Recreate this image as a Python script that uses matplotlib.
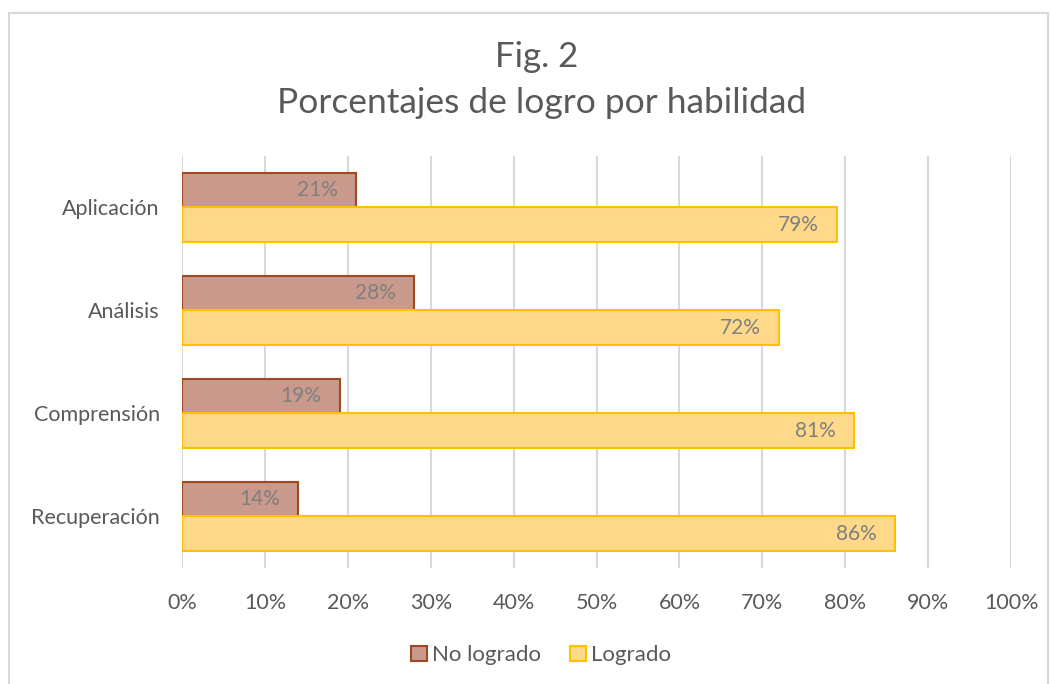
import numpy as np
import matplotlib.pyplot as plt
from matplotlib.patches import Rectangle

plt.rcParams['font.family'] = ['Lato', 'DejaVu Sans']

# data
categorias = ['Recuperación', 'Comprensión', 'Análisis', 'Aplicación']
no_logrado = [14, 19, 28, 21]
logrado = [86, 81, 72, 79]
ticks_x = list(range(0, 101, 10))

gris = '#595959'

fig = plt.figure(figsize=(10.51, 6.84), dpi=100)
ax = fig.add_axes([0.1732, 0.1696, 0.7888, 0.6024])

# outer chart frame
fig.patches.append(Rectangle((9 / 1051, -0.01), 1039 / 1051, 1 - 13 / 684 + 0.01,
                             transform=fig.transFigure, fill=False,
                             edgecolor='#d9d9d9', linewidth=1.5))

y = np.arange(len(categorias))
h = 0.335

b1 = ax.barh(y + h / 2, no_logrado, height=h, color='#c9998c',
             edgecolor='#9e4a1e', linewidth=1.5, label='No logrado', zorder=3)
b2 = ax.barh(y - h / 2, logrado, height=h, color='#ffd98a',
             edgecolor='#ffc000', linewidth=1.5, label='Logrado', zorder=3)

# data labels inside the end of each bar
for bars, vals in [(b1, no_logrado), (b2, logrado)]:
    for bar, v in zip(bars, vals):
        ax.annotate(f'{v}%', (v, bar.get_y() + bar.get_height() / 2),
                    xytext=(-13, 0), textcoords='offset points',
                    ha='right', va='center', fontsize=15, color='#7f7f7f',
                    zorder=4)

ax.set_xlim(0, 100)
ax.set_ylim(-0.5, len(categorias) - 0.5)
ax.set_xticks(ticks_x)
ax.set_xticklabels([f'{t}%' for t in ticks_x])
ax.set_yticks(y)
ax.set_yticklabels(categorias)
ax.tick_params(axis='both', length=0, labelsize=15.5, labelcolor=gris)
ax.tick_params(axis='x', pad=18)
ax.tick_params(axis='y', pad=16)

ax.grid(axis='x', color='#d9d9d9', linewidth=1.5, zorder=0)
for s in ax.spines.values():
    s.set_visible(False)

fig.text(0.511, 0.917, 'Fig. 2', ha='center', va='center', fontsize=25, color=gris)
fig.text(0.515, 0.849, 'Porcentajes de logro por habilidad', ha='center',
         va='center', fontsize=25.5, color=gris)

fig.legend(handles=[b1, b2], loc='center', bbox_to_anchor=(0.515, 0.042),
           ncol=2, frameon=False, fontsize=16, labelcolor=gris,
           handlelength=0.7, handleheight=0.7, handletextpad=0.25,
           columnspacing=1.3)

fig.savefig('out.png', dpi=100)
